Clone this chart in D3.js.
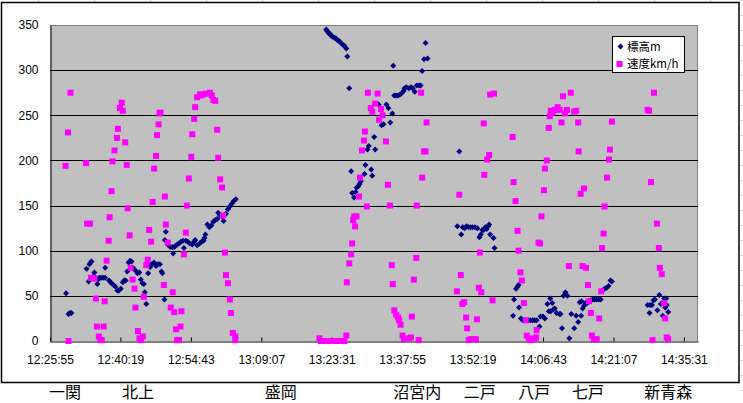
<!DOCTYPE html>
<html><head><meta charset="utf-8">
<script src="https://cdn.jsdelivr.net/npm/d3@7"></script>
<style>body{margin:0;background:#fff;overflow:hidden}</style>
</head><body>
<svg id="c" width="743" height="403"></svg>
<script>
// minutes after 12:00:00
const elevTime=[29.2,29.7,30.0,30.3,33.4,33.8,34.0,34.2,34.4,34.6,35.0,35.3,35.6,35.8,36.0,36.4,36.8,37.2,37.2,38.0,38.3,38.5,38.9,39.3,39.7,40.0,40.4,40.8,41.1,41.4,41.7,42.0,42.3,42.6,42.9,43.4,43.8,44.2,44.5,44.8,45.1,45.3,45.6,46.0,46.4,46.7,47.2,47.6,48.0,48.4,48.7,48.9,49.3,49.4,49.6,50.0,50.5,50.9,51.1,51.3,51.5,51.9,52.3,52.7,53.1,53.3,53.7,54.1,54.5,55.0,55.4,55.6,56.0,56.5,56.9,57.3,57.5,57.7,58.1,58.5,58.9,59.3,59.7,60.1,60.3,60.7,61.1,61.4,61.9,62.3,62.7,63.1,63.5,63.9,
82.4,82.6,82.9,83.2,83.4,83.7,84.1,84.4,84.7,85.1,85.4,85.8,86.1,86.5,86.7,87.1,87.5,87.7,88.1,88.4,88.6,88.9,89.2,89.5,90.2,90.4,90.8,91.1,91.6,91.8,92.2,92.4,93.1,93.7,94.1,94.7,95.1,95.5,95.9,96.1,96.3,96.7,97.1,97.5,97.9,98.2,98.4,98.8,99.3,99.7,100.1,100.5,100.9,101.4,101.7,102.0,102.4,102.7,103.1,
109.2,109.6,110.0,110.3,110.7,111.1,111.5,111.9,112.3,112.8,113.3,113.7,114.0,114.3,114.6,114.9,115.2,115.5,115.7,115.9,116.6,116.8,
120.6,120.8,121.2,121.5,121.7,121.8,122.2,122.6,123.0,123.4,123.8,124.2,124.6,125.0,125.4,126.0,126.2,126.7,127.1,127.6,127.9,128.2,128.6,128.3,128.8,129.1,129.5,130.1,130.3,130.6,130.9,131.3,131.7,132.1,132.5,133.1,133.5,133.9,134.2,134.6,134.5,134.8,135.1,135.4,135.8,136.2,136.5,136.9,137.3,137.7,138.1,138.5,138.9,139.3,139.7,140.1,140.5,140.8,
148.1,148.5,148.6,149.0,149.3,149.6,150.1,150.5,150.8,151.2,151.5,151.7,151.9,152.0,152.3];
const elevValue=[53,30,31,31,80,66,85,87,88,71,76,70,63,68,70,70,70,70,81,67,65,64,62,60,56,56,58,65,67,67,77,87,89,88,81,78,75,76,68,64,63,54,41,75,82,85,87,83,85,85,77,75,46,112,121,107,104,104,97,104,105,107,108,110,111,103,111,110,108,107,110,112,106,108,110,111,114,118,129,126,128,132,134,135,142,139,138,133,141,146,149,152,155,157,
345,343,341,340,338,337,336,335,333,332,330,328,327,324,315,280,188,164,159,165,170,171,174,177,185,195,212,216,190,183,226,212,262,239,240,262,258,242,252,305,272,272,272,273,275,277,280,281,280,281,280,276,283,283,283,299,312,330,313,
127,210,118,126,125,127,126,126,126,126,125,115,118,123,123,126,124,127,129,118,114,103,
28,46,58,60,62,37,25,23,23,23,23,23,23,23,23,16,27,27,25,41,33,47,42,33,35,36,31,30,30,14,50,54,50,3,30,14,28,21,43,44,28,36,39,42,42,44,45,46,46,46,46,46,56,58,59,61,67,66,
40,31,40,40,45,46,34,51,41,28,47,37,47,40,32];

const speedTime=[29.1,29.6,29.7,30.1,33.3,33.5,34.1,34.3,35.0,35.3,35.5,35.9,36.2,36.5,36.9,37.1,37.5,37.9,38.1,38.5,38.7,39.1,39.6,39.8,40.2,40.6,40.8,41.3,41.6,41.8,42.2,42.4,42.8,43.2,43.4,43.9,44.2,44.5,44.9,45.1,45.6,45.9,46.2,46.6,46.9,47.2,47.6,47.8,48.1,48.3,48.5,
49.2,49.4,49.6,50.0,50.6,51.0,51.3,51.7,51.9,52.3,52.6,52.8,53.3,53.7,53.9,54.3,54.8,55.0,55.4,55.6,56.0,56.6,56.8,57.2,57.8,58.6,59.0,59.3,59.7,60.1,60.3,60.7,61.1,61.3,61.7,61.9,62.3,62.7,62.9,63.3,63.8,63.8,
81.0,81.3,81.6,81.9,82.2,82.5,82.8,83.1,83.4,83.7,84.0,84.3,84.6,84.9,85.2,85.5,85.8,86.1,86.5,86.6,87.1,87.5,87.7,87.9,88.1,88.3,88.6,89.1,89.3,89.7,90.1,90.3,90.7,90.9,91.5,91.8,92.4,92.9,93.2,93.6,93.9,94.6,95.0,95.4,95.8,96.0,96.3,96.7,97.1,97.3,97.6,98.0,98.3,99.3,99.7,99.9,100.3,100.8,100.9,101.3,101.8,102.0,102.4,102.7,102.9,
109.1,109.6,109.9,110.2,110.6,111.0,111.2,111.5,111.9,112.5,113.0,113.2,113.6,113.8,114.1,114.6,114.7,115.3,115.7,115.9,116.4,116.7,
120.5,120.7,121.1,121.5,121.7,122.1,122.4,122.8,123.2,123.4,123.8,124.2,124.6,125.0,125.3,125.4,125.8,126.1,126.4,126.9,127.1,127.5,127.9,128.1,128.3,128.7,129.1,129.7,130.1,130.5,130.8,131.2,131.6,132.0,132.4,133.1,133.5,133.9,134.0,134.4,134.8,135.1,135.5,135.9,136.1,136.5,136.7,137.1,137.7,138.2,138.6,138.8,139.1,139.3,139.8,140.2,140.4,140.8,
148.1,148.4,148.8,149.1,149.4,150.0,150.4,150.6,151.0,151.5,151.7,152.0,152.3];
const speedValue=[194,231,0,275,197,130,130,70,69,47,16,5,1,1,16,44,89,111,137,166,199,211,225,235,258,264,255,220,195,147,117,81,68,58,37,11,3,1,5,49,84,90,123,110,154,191,205,228,240,252,253,
62,160,129,109,37,54,32,13,1,1,16,33,96,120,150,180,204,229,246,259,270,273,272,273,274,275,272,267,266,234,203,179,170,139,98,73,64,46,31,9,5,1,
3,0,0,0,0,0,0,0,0,0,0,0,0,0,0,0,0,0,6,65,86,96,108,134,138,127,138,160,181,211,222,232,149,275,258,254,263,274,245,257,250,221,173,150,84,63,34,29,26,23,18,6,2,3,4,27,68,92,150,1,275,181,210,210,242,
55,162,73,41,43,26,14,1,2,2,2,24,59,98,54,241,184,201,206,273,45,274,
226,176,155,122,100,76,67,42,23,6,3,1,2,3,4,12,109,108,138,167,191,200,236,249,255,253,256,259,256,242,271,252,256,83,275,254,255,242,210,163,83,169,81,62,44,31,6,2,2,25,55,103,119,149,181,201,212,243,
256,255,176,1,275,130,103,81,74,42,25,4,2];

const seriesNames=["標高m","速度km/h"];
const yTicks=[0,50,100,150,200,250,300,350];
const xTickLabels=["12:25:55","12:40:19","12:54:43","13:09:07","13:23:31","13:37:55","13:52:19","14:06:43","14:21:07","14:35:31"];
const stationNames=["一関","北上","盛岡","沼宮内","二戸","八戸","七戸","新青森"];
const stationTime=[29.0,43.9,73.1,101.0,113.8,124.9,135.9,152.3];

const xMin=25.92, xMax=158.4; // 0.518 .. 0.61 day, minutes after noon
const toMin=s=>{const p=s.split(":").map(Number);return (p[0]-12)*60+p[1]+p[2]/60;};

const svg=d3.select("#c");
const L=50,T=25,R=698,B=341;
const x=d3.scaleLinear().domain([xMin,xMax]).range([L,R]);
const y=d3.scaleLinear().domain([0,350]).range([B,T]);

// faint spreadsheet cell lines outside the chart
const cells=svg.append("g").attr("stroke","#d6d6d6").attr("stroke-width",1);
d3.range(38,740,56).forEach(v=>cells.append("line").attr("x1",v+0.5).attr("x2",v+0.5).attr("y1",0).attr("y2",2));
d3.range(0,403,15).forEach(v=>cells.append("line").attr("x1",740).attr("x2",743).attr("y1",v+0.5).attr("y2",v+0.5));

// chart frame
svg.append("rect").attr("x",1.5).attr("y",2.5).attr("width",737.5).attr("height",380)
  .attr("fill","#fff").attr("stroke","#000").attr("stroke-width",1.5);

// plot area
svg.append("rect").attr("x",L).attr("y",T).attr("width",R-L).attr("height",B-T).attr("fill","#c0c0c0");
svg.append("path").attr("d",`M${L},${T+0.5}H${R-0.5}V${B}`).attr("fill","none").attr("stroke","#808080");

// grid
svg.append("g").selectAll("line").data(yTicks.filter(v=>v>0&&v<350)).join("line")
  .attr("x1",L).attr("x2",R).attr("y1",d=>Math.round(y(d))+0.5).attr("y2",d=>Math.round(y(d))+0.5)
  .attr("stroke","#000");

// y axis
const ya=svg.append("g").attr("transform",`translate(${L+0.5},0)`)
  .call(d3.axisLeft(y).tickValues(yTicks).tickSize(0).tickPadding(12).tickFormat(d3.format("d")));
ya.select(".domain").attr("stroke","#000");
ya.selectAll("text").attr("font-family","Liberation Sans, Arial, sans-serif").attr("font-size",12).attr("fill","#000");

// x axis
const xTickVals=xTickLabels.map(toMin);
const xa=svg.append("g").attr("transform",`translate(0,${B+0.5})`)
  .call(d3.axisBottom(x).tickValues(xTickVals).tickSizeInner(-4).tickSizeOuter(0)
    .tickFormat((d,i)=>xTickLabels[i]));
xa.select(".domain").attr("stroke","#000");
xa.selectAll(".tick line").attr("stroke","#000");
xa.selectAll("text").attr("y",22.5).attr("dy",null).attr("font-family","Liberation Sans, Arial, sans-serif").attr("font-size",12).attr("fill","#000");

// markers
const diamond="M0,-3L3,0L0,3L-3,0Z";
svg.append("g").selectAll("path").data(elevTime).join("path")
  .attr("d",diamond).attr("fill","#000080")
  .attr("transform",(d,i)=>`translate(${x(d)},${y(elevValue[i])})`);
svg.append("g").selectAll("rect").data(speedTime).join("rect")
  .attr("x",d=>x(d)-3).attr("y",(d,i)=>y(speedValue[i])-3).attr("width",6).attr("height",6)
  .attr("fill","#ff00ff");

// legend
const lg=svg.append("g");
lg.append("rect").attr("x",612.5).attr("y",36.5).attr("width",72).attr("height",36).attr("fill","#fff").attr("stroke","#000");
lg.append("path").attr("d",diamond).attr("fill","#000080").attr("transform","translate(620.5,46.5)");
lg.append("rect").attr("x",616.5).attr("y",61).attr("width",6).attr("height",6).attr("fill","#ff00ff");
lg.selectAll("text").data(seriesNames).join("text")
  .attr("x",627).attr("y",(d,i)=>50.5+i*17).attr("font-family","Noto Sans CJK JP, sans-serif").attr("font-size",11.5).attr("fill","#000").text(d=>d);

// station labels under the chart
svg.append("g").selectAll("text").data(stationNames).join("text")
  .attr("x",(d,i)=>x(stationTime[i])).attr("y",398).attr("text-anchor","middle")
  .attr("font-family","Noto Sans CJK JP, sans-serif").attr("font-size",16).attr("fill","#000").text(d=>d);
</script>
</body></html>
